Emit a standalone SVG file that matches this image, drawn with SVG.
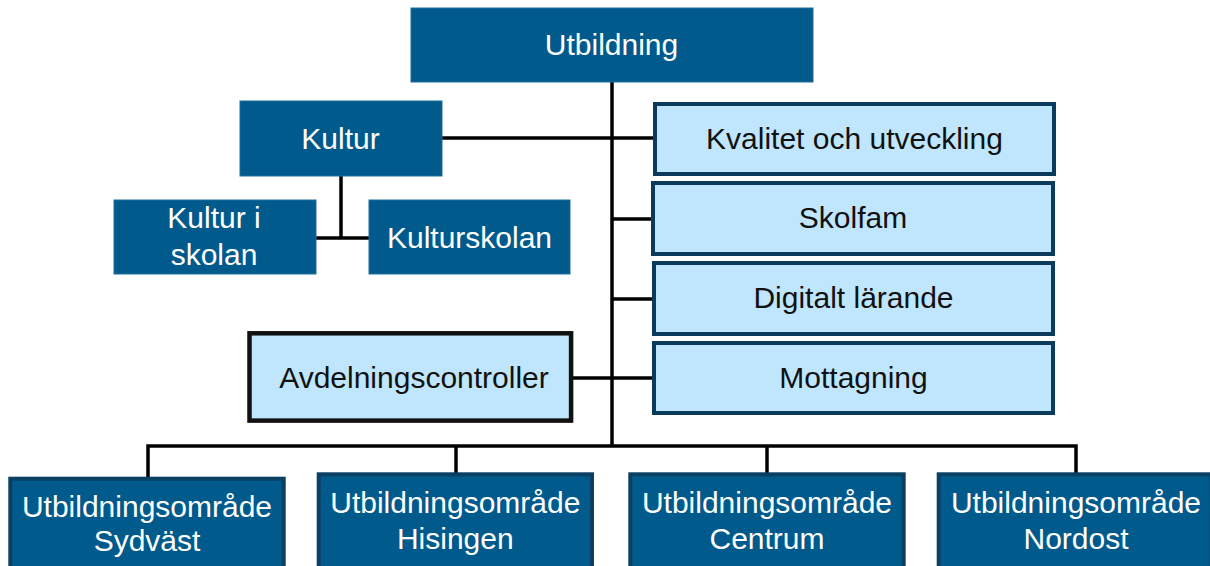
<svg xmlns="http://www.w3.org/2000/svg" width="1210" height="566" viewBox="0 0 1210 566">
<style>
.dark{fill:#005a8c;stroke:#1f6f9f;stroke-width:1}
.darkb{fill:#005a8c;stroke:#0b3f63;stroke-width:4}
.light{fill:#bfe6fd;stroke:#0a3a5c;stroke-width:4}
.lightk{fill:#bfe6fd;stroke:#111111;stroke-width:4.5}
.tw{font-family:"Liberation Sans",Arial,sans-serif;font-size:30px;fill:#ffffff;text-anchor:middle}
.tb{font-family:"Liberation Sans",Arial,sans-serif;font-size:30px;fill:#111111;text-anchor:middle}
.conn{fill:none;stroke:#000000;stroke-width:3.5}
</style>
<rect width="1210" height="566" fill="#ffffff"/>
<g id="connectors">
<line class="conn" x1="612" y1="82" x2="612" y2="446"/>
<line class="conn" x1="442" y1="138" x2="655" y2="138"/>
<line class="conn" x1="612" y1="219" x2="653" y2="219"/>
<line class="conn" x1="612" y1="299" x2="654" y2="299"/>
<line class="conn" x1="573" y1="378" x2="654" y2="378"/>
<line class="conn" x1="341" y1="176" x2="341" y2="238"/>
<line class="conn" x1="316" y1="238" x2="369" y2="238"/>
<polyline class="conn" points="148,477 148,446 1076,446 1076,473"/>
<line class="conn" x1="456" y1="446" x2="456" y2="473"/>
<line class="conn" x1="767" y1="446" x2="767" y2="473"/>
</g>
<g id="utbildning">
<rect class="dark" x="411" y="8" width="402" height="74"/>
<text class="tw" x="611.5" y="55">Utbildning</text>
</g>
<g id="kultur">
<rect class="dark" x="240" y="101" width="202" height="75"/>
<text class="tw" x="340.5" y="149">Kultur</text>
</g>
<g id="kultur-i-skolan">
<rect class="dark" x="114" y="200" width="202" height="74"/>
<text class="tw" x="214" y="228">Kultur i</text>
<text class="tw" x="214" y="265">skolan</text>
</g>
<g id="kulturskolan">
<rect class="dark" x="369" y="200" width="201" height="74"/>
<text class="tw" x="469.5" y="248">Kulturskolan</text>
</g>
<g id="kvalitet">
<rect class="light" x="655" y="104" width="399" height="70"/>
<text class="tb" x="854.5" y="149">Kvalitet och utveckling</text>
</g>
<g id="skolfam">
<rect class="light" x="653" y="183" width="400" height="71"/>
<text class="tb" x="853" y="228">Skolfam</text>
</g>
<g id="digitalt">
<rect class="light" x="654" y="263" width="399" height="71"/>
<text class="tb" x="853.5" y="308">Digitalt lärande</text>
</g>
<g id="mottagning">
<rect class="light" x="654" y="343" width="399" height="70"/>
<text class="tb" x="853.5" y="388">Mottagning</text>
</g>
<g id="avdelningscontroller">
<rect class="lightk" x="249.5" y="333.3" width="321.6" height="87.3"/>
<text class="tb" x="414" y="388">Avdelningscontroller</text>
</g>
<g id="sydvast">
<rect class="darkb" x="10.3" y="478.7" width="273.4" height="100"/>
<text class="tw" x="147" y="517">Utbildningsområde</text>
<text class="tw" x="147" y="551">Sydväst</text>
</g>
<g id="hisingen">
<rect class="darkb" x="318.7" y="474.3" width="273.3" height="100"/>
<text class="tw" x="455.3" y="513">Utbildningsområde</text>
<text class="tw" x="455.3" y="549">Hisingen</text>
</g>
<g id="centrum">
<rect class="darkb" x="630.3" y="474.3" width="273.4" height="100"/>
<text class="tw" x="767" y="513">Utbildningsområde</text>
<text class="tw" x="767" y="549">Centrum</text>
</g>
<g id="nordost">
<rect class="darkb" x="938.7" y="474.3" width="273" height="100"/>
<text class="tw" x="1076" y="513">Utbildningsområde</text>
<text class="tw" x="1076" y="549">Nordost</text>
</g>
</svg>
